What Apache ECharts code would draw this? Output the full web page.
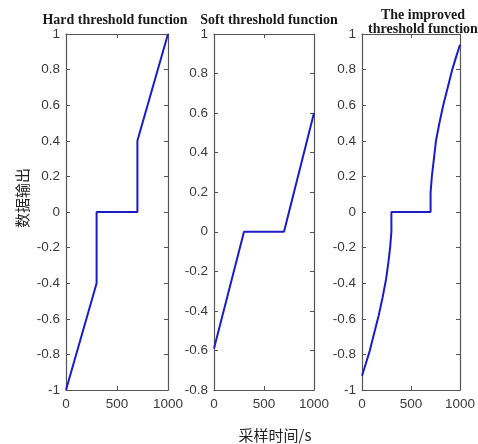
<!DOCTYPE html>
<html>
<head>
<meta charset="utf-8">
<script src="https://cdn.jsdelivr.net/npm/echarts@6/dist/echarts.min.js"></script>
<style>html,body{margin:0;padding:0;background:#fff;}#c{width:478px;height:444px;}</style>
</head>
<body>
<div id="c"></div>
<script>
// Data
var titles = ["Hard threshold function", "Soft threshold function", "The improved\nthreshold function"];
var xTicks = [0, 500, 1000];
var hardX = [0, 300, 300, 700, 700, 1000];
var hardY = [-1, -0.4, 0, 0, 0.4, 1];
var softX = [0, 300, 700, 1000];
var softY = [-0.59, 0, 0, 0.6];
var impX = [0, 40, 79, 125, 171, 210, 245, 270, 287, 300, 300, 700, 700, 713, 730, 755, 790, 829, 875, 921, 960, 1000];
var impY = [-0.92, -0.85, -0.78, -0.68, -0.58, -0.48, -0.38, -0.28, -0.2, -0.11, 0, 0, 0.11, 0.2, 0.28, 0.4, 0.5, 0.6, 0.7, 0.8, 0.87, 0.94];
var yRanges = [[-1, 1], [-0.8, 1], [-1, 1]];
var yLabel = "数据输出";
var xLabel = "采样时间/s";

function pairs(xs, ys){ return xs.map(function(x,i){ return [x, ys[i]]; }); }
var seriesData = [pairs(hardX, hardY), pairs(softX, softY), pairs(impX, impY)];

var grids = [
  {left: 66, top: 34, width: 102, height: 356},
  {left: 214, top: 34, width: 100, height: 356},
  {left: 362, top: 34, width: 101, height: 356}
];
var axisColor = '#555';
var labelStyle = {color: '#3a3a3a', fontFamily: 'Liberation Sans, Arial, sans-serif', fontSize: 13.5};
function fmt(v){ return String(Math.round(v * 1000) / 1000); }
var xAxes = [], yAxes = [], series = [];
grids.forEach(function(g, i){
  var line = {show: true, onZero: false, lineStyle: {color: axisColor, width: 1.2}};
  var tick = {show: true, inside: true, length: 4, lineStyle: {color: axisColor}};
  xAxes.push({gridIndex: i, type: 'value', min: xTicks[0], max: xTicks[xTicks.length-1], interval: 500, position: 'bottom',
    axisLine: line, axisTick: tick,
    axisLabel: Object.assign({margin: 7, formatter: fmt}, labelStyle), splitLine: {show: false}});
  xAxes.push({gridIndex: i, type: 'value', min: xTicks[0], max: xTicks[xTicks.length-1], interval: 500, position: 'top',
    axisLine: line, axisTick: tick,
    axisLabel: {show: false}, splitLine: {show: false}});
  yAxes.push({gridIndex: i, type: 'value', min: yRanges[i][0], max: yRanges[i][1], interval: 0.2, position: 'left',
    axisLine: line, axisTick: tick,
    axisLabel: Object.assign({margin: 6, formatter: fmt}, labelStyle), splitLine: {show: false}});
  yAxes.push({gridIndex: i, type: 'value', min: yRanges[i][0], max: yRanges[i][1], interval: 0.2, position: 'right',
    axisLine: line, axisTick: tick,
    axisLabel: {show: false}, splitLine: {show: false}});
  series.push({type: 'line', xAxisIndex: i*2, yAxisIndex: i*2, data: seriesData[i], showSymbol: false,
    lineStyle: {color: '#1c1cc4', width: 2}, animation: false});
});

var titleStyle = {color: '#1a1a1a', fontFamily: 'Liberation Serif, Times New Roman, serif', fontWeight: 'bold', fontSize: 14, lineHeight: 14};
var chart = echarts.init(document.getElementById('c'), null, {renderer: 'canvas'});
chart.setOption({
  backgroundColor: '#fff',
  animation: false,
  title: [
    {text: titles[0], left: 110, top: 8, textAlign: 'center', textStyle: titleStyle},
    {text: titles[1], left: 264, top: 8, textAlign: 'center', textStyle: titleStyle},
    {text: titles[2], left: 418, top: 3, textAlign: 'center', textStyle: Object.assign({align: 'center'}, titleStyle)}
  ],
  grid: grids,
  xAxis: xAxes,
  yAxis: yAxes,
  series: series,
  graphic: [
    {type: 'text', x: 22, y: 198, rotation: Math.PI/2, style: {text: yLabel, fill: '#222', font: '15px "Noto Sans CJK SC"', textAlign: 'center', textVerticalAlign: 'middle'}},
    {type: 'text', x: 275, y: 435, style: {text: xLabel, fill: '#222', font: '15px "Noto Sans CJK SC"', textAlign: 'center', textVerticalAlign: 'middle'}}
  ]
});
</script>
</body>
</html>
